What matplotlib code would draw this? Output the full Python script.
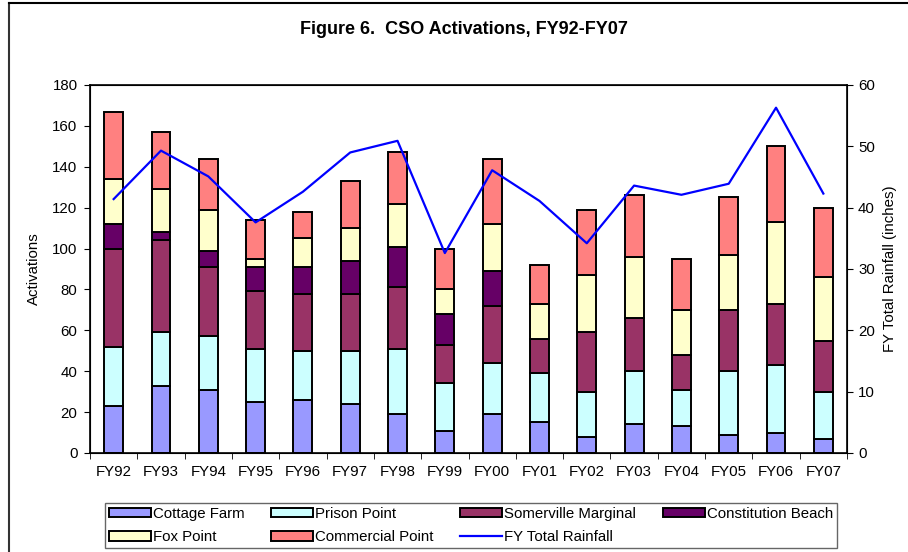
import numpy as np
import matplotlib
matplotlib.use("Agg")
from matplotlib import pyplot as plt
from matplotlib.lines import Line2D

plt.rcParams['font.family'] = ['Liberation Sans', 'DejaVu Sans']

years = ["FY92", "FY93", "FY94", "FY95", "FY96", "FY97", "FY98", "FY99",
         "FY00", "FY01", "FY02", "FY03", "FY04", "FY05", "FY06", "FY07"]

# activations per outfall
cottageFarm = [23, 33, 31, 25, 26, 24, 19, 11, 19, 15, 8, 14, 13, 9, 10, 7]
prisonPoint = [29, 26, 26, 26, 24, 26, 32, 23, 25, 24, 22, 26, 18, 31, 33, 23]
somerville = [48, 45, 34, 28, 28, 28, 30, 19, 28, 17, 29, 26, 17, 30, 30, 25]
constitution = [12, 4, 8, 12, 13, 16, 20, 15, 17, 0, 0, 0, 0, 0, 0, 0]
foxPoint = [22, 21, 20, 4, 14, 16, 21, 12, 23, 17, 28, 30, 22, 27, 40, 31]
commercial = [33, 28, 25, 19, 13, 23, 25, 20, 32, 19, 32, 30, 25, 28, 37, 34]

# FY total rainfall (inches), right axis
rainfall = [41.4, 49.3, 45.1, 37.6, 42.6, 49.0, 50.9, 32.6,
            46.1, 41.1, 34.2, 43.6, 42.1, 43.9, 56.3, 42.3]

series = [
    ("Cottage Farm", cottageFarm, "#9999FF"),
    ("Prison Point", prisonPoint, "#CCFFFF"),
    ("Somerville Marginal", somerville, "#993366"),
    ("Constitution Beach", constitution, "#660066"),
    ("Fox Point", foxPoint, "#FFFFCC"),
    ("Commercial Point", commercial, "#FF8080"),
]

fs = 10.8

fig = plt.figure(figsize=(9.08, 5.52), dpi=100)
ax = fig.add_axes([90/908, 1-453/552, (847-90)/908, (453-85)/552])

x = np.arange(len(years))
bottom = np.zeros(len(years))
handles = {}
for name, vals, col in series:
    vals = np.array(vals, dtype=float)
    b = ax.bar(x, vals, width=0.4, bottom=bottom, color=col,
               edgecolor="black", linewidth=1.4, label=name, zorder=2)
    handles[name] = b
    bottom += vals

ax.set_xlim(-0.5, len(years) - 0.5)
ax.set_ylim(0, 180)
ax.set_yticks(range(0, 181, 20))
ax.set_xticks(x)
ax.set_xticklabels(years)
ax.set_xticks(np.arange(-0.5, len(years), 1), minor=True)
ax.tick_params(axis="x", which="major", length=0, labelsize=fs, pad=9)
ax.tick_params(axis="x", which="minor", length=4, direction="out")
ax.tick_params(axis="y", labelsize=fs, length=4, direction="out", pad=5)
ax.set_ylabel("Activations", fontsize=fs, labelpad=8)
for s in ax.spines.values():
    s.set_linewidth(1.2)

ax2 = ax.twinx()
line, = ax2.plot(x, rainfall, color="#0000FF", linewidth=1.6,
                 label="FY Total Rainfall", zorder=3)
ax2.set_ylim(0, 60)
ax2.set_yticks(range(0, 61, 10))
ax2.tick_params(axis="y", labelsize=fs, length=4, direction="out", pad=4)
ax2.set_ylabel("FY Total Rainfall (inches)", fontsize=fs, labelpad=6)

fig.text(464/908, 1 - 30/552, "Figure 6.  CSO Activations, FY92-FY07",
         ha="center", va="center", fontsize=13, fontweight="bold")

# legend: matplotlib fills column-wise, so reorder to read row-wise
order = [handles["Cottage Farm"], handles["Fox Point"],
         handles["Prison Point"], handles["Commercial Point"],
         handles["Somerville Marginal"], line,
         handles["Constitution Beach"]]
labels = ["Cottage Farm", "Fox Point", "Prison Point", "Commercial Point",
          "Somerville Marginal", "FY Total Rainfall", "Constitution Beach"]
leg = fig.legend(order, labels, ncol=4, loc="center", mode="expand",
                 bbox_to_anchor=(105/908, 1 - 549/552, 732/908, 47/552),
                 fontsize=fs, frameon=True, fancybox=False,
                 edgecolor="#404040", handlelength=2.8, handleheight=0.6,
                 handletextpad=0.15, columnspacing=1.0, labelspacing=0.65,
                 borderpad=0.25, borderaxespad=0)
leg.get_frame().set_linewidth(1.0)

# chart-area border (only left and top edges show in the crop)
fig.add_artist(Line2D([9/908, 9/908], [0, 1 - 3/552], color="#333333",
                      linewidth=1.5, transform=fig.transFigure))
fig.add_artist(Line2D([9/908, 1], [1 - 3/552, 1 - 3/552], color="black",
                      linewidth=1.5, transform=fig.transFigure))

fig.savefig("out.png", dpi=100)
